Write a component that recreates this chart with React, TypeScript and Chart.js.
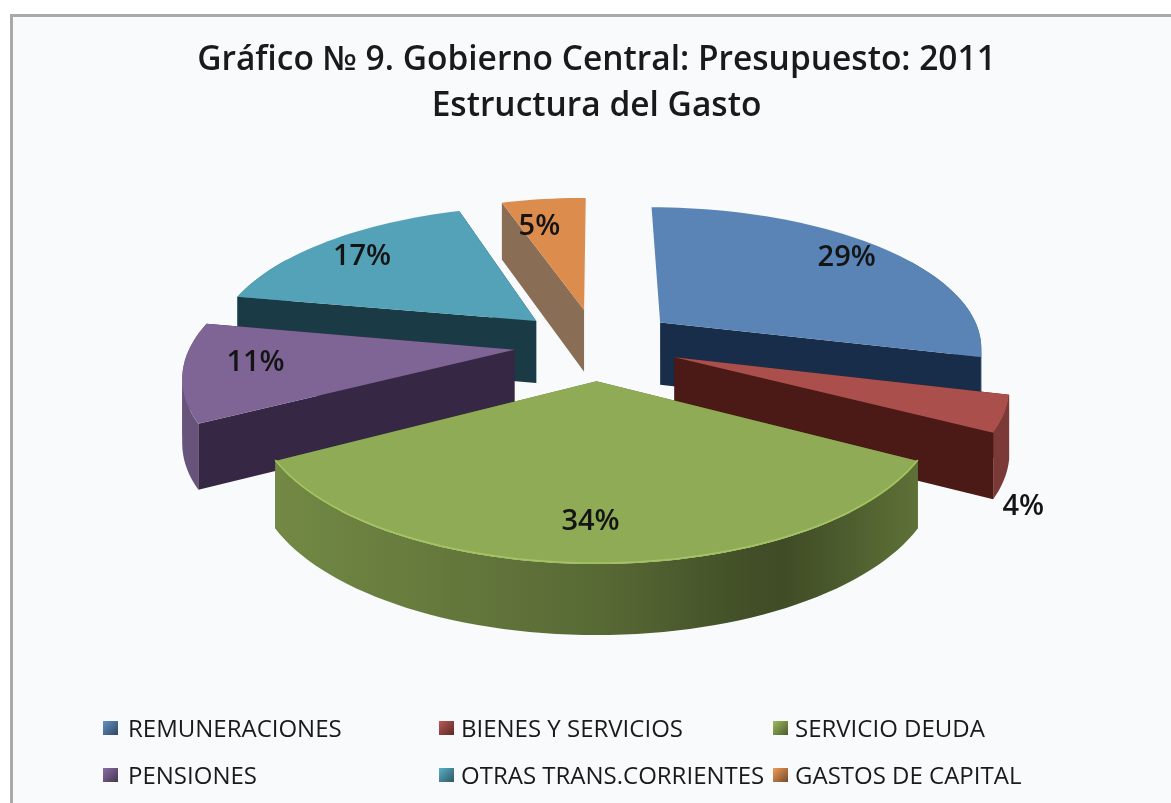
import React, { useEffect, useRef } from "react";
import { Chart, registerables } from "chart.js";

Chart.register(...registerables);

const titleLines = ["Gráfico № 9. Gobierno Central: Presupuesto: 2011", "Estructura del Gasto"];
const categories = ["REMUNERACIONES", "BIENES Y SERVICIOS", "SERVICIO DEUDA", "PENSIONES", "OTRAS TRANS.CORRIENTES", "GASTOS DE CAPITAL"];
const shares = [29, 4, 34, 11, 17, 5];
const topColors = ["#5a84b5", "#ab4f4c", "#8fab55", "#7f6596", "#53a2b8", "#dc8d4e"];
const wallColors = ["#182d49", "#4b1916", "#55702c", "#362845", "#1a3b45", "#8a6d55"];

const FONT = "'Open Sans', Lato, sans-serif";
const labelT = [0.9, 0.9, 0.795, 0.82, 0.7, 0.55];
const labelNudge = [[-15, 3], [54, 99], [-6, 1], [12, -5], [-24, -7], [-21, -18]];
const legendX = [[103, 128], [439, 461], [773, 795]];
const legendY = [728, 775];

const rgb = (h: string) => [1, 3, 5].map((i) => parseInt(h.slice(i, i + 2), 16));
const mul = (h: string, f: number) => {
  const c = rgb(h).map((v) => Math.max(0, Math.min(255, Math.round(v * f))));
  return `rgb(${c[0]},${c[1]},${c[2]})`;
};
const lerp = (a: number, b: number, t: number) => a + (b - a) * t;
const rimShade = (u: number) => {
  if (u < 0) return lerp(0.62, 0.82, Math.min(1, -u));
  if (u < 0.5) return lerp(0.62, 0.43, u / 0.5);
  return lerp(0.43, 0.72, Math.min(1, (u - 0.5) / 0.5));
};

const pie3d = {
  id: "pie3d",
  beforeDraw(chart: any) {
    const { ctx, width, height } = chart;
    ctx.save();
    ctx.fillStyle = "#ffffff";
    ctx.fillRect(0, 0, width, height);
    ctx.fillStyle = "#f8fafc";
    ctx.fillRect(13, 16, width - 13, height - 16);
    ctx.fillStyle = "#a9a9a9";
    ctx.fillRect(10, 14, width - 10, 3);
    ctx.fillRect(10, 14, 3, height - 14);
    ctx.restore();
  },
  beforeDatasetDraw(chart: any, args: any) {
    const { ctx } = chart;
    const meta = chart.getDatasetMeta(args.index);
    const B = 0.16;
    const order = meta.data
      .map((_: any, i: number) => i)
      .sort((a: number, b: number) => {
        const m = (el: any) => Math.sin((el.startAngle + el.endAngle) / 2);
        return m(meta.data[a]) - m(meta.data[b]);
      });
    const geo: any[] = [];
    for (const i of order) {
      const el = meta.data[i];
      const R = el.outerRadius;
      const cw = 1.72 * R;
      const ch = 0.745 * R;
      const project = (u: number, v: number) => [el.x + (cw * u) / (1 - B * v), el.y + (ch * v) / (1 - B * v)];
      const depth = (v: number) => 63 / (1 - 0.09 * v);
      const mid = (el.startAngle + el.endAngle) / 2;
      const d = el.options.offset / R;
      const ax = d * Math.cos(mid);
      const ay = d * Math.sin(mid);
      const base = el.options.backgroundColor as string;
      geo[i] = { ax, ay, mid, project };

      const rimGrad = ctx.createLinearGradient(el.x - cw * 1.15, 0, el.x + cw * 1.3, 0);
      for (let s = 0; s <= 24; s++) {
        const t = s / 24;
        const x = lerp(-cw * 1.15, cw * 1.3, t);
        rimGrad.addColorStop(t, mul(base, rimShade((x / cw) * 0.9)));
      }

      const apex = { p: project(ax, ay), v: ay };
      const arc: { p: number[]; v: number; s: number }[] = [];
      const n = Math.max(10, Math.round((el.endAngle - el.startAngle) * 30));
      for (let k = 0; k <= n; k++) {
        const a = lerp(el.startAngle, el.endAngle, k / n);
        const v = ay + Math.sin(a);
        arc.push({ p: project(ax + Math.cos(a), v), v, s: Math.sin(a) });
      }

      const wall = (a: any, b: any) => {
        const dx = b.p[0] - a.p[0];
        const dy = b.p[1] - a.p[1];
        if (Math.abs(dx) < Math.abs(dy) * 0.15) return;
        ctx.beginPath();
        ctx.moveTo(a.p[0], a.p[1]);
        ctx.lineTo(b.p[0], b.p[1]);
        ctx.lineTo(b.p[0], b.p[1] + depth(b.v));
        ctx.lineTo(a.p[0], a.p[1] + depth(a.v));
        ctx.closePath();
        ctx.fillStyle = wallColors[i];
        ctx.fill();
      };
      const rimRun = (run: any[]) => {
        if (run.length < 2) return;
        ctx.beginPath();
        run.forEach((q, k) => (k ? ctx.lineTo(q.p[0], q.p[1]) : ctx.moveTo(q.p[0], q.p[1])));
        [...run].reverse().forEach((q) => ctx.lineTo(q.p[0], q.p[1] + depth(q.v)));
        ctx.closePath();
        ctx.fillStyle = rimGrad;
        ctx.fill();
      };

      const walls = [
        { a: apex, b: arc[0] },
        { a: arc[n], b: apex },
      ];
      const isFront = (a: any, b: any) => b.p[0] < a.p[0];
      const backRun: any[] = [];
      const frontRun: any[] = [];
      for (let k = 0; k < n; k++) {
        if (arc[k].s < -0.5 || arc[k + 1].s < -0.5) continue;
        const run = isFront(arc[k], arc[k + 1]) ? frontRun : backRun;
        if (run[run.length - 1] !== arc[k]) run.push(arc[k]);
        run.push(arc[k + 1]);
      }
      ctx.save();
      rimRun(backRun);
      walls.filter((w) => !isFront(w.a, w.b)).forEach((w) => wall(w.a, w.b));
      rimRun(frontRun);
      walls.filter((w) => isFront(w.a, w.b)).forEach((w) => wall(w.a, w.b));

      ctx.beginPath();
      ctx.moveTo(apex.p[0], apex.p[1]);
      arc.forEach((q) => ctx.lineTo(q.p[0], q.p[1]));
      ctx.closePath();
      ctx.fillStyle = base;
      ctx.fill();

      if (Math.sin(mid) > 0.5) {
        ctx.beginPath();
        let started = false;
        arc.forEach((q) => {
          if (q.v > 0.1) {
            if (!started) ctx.moveTo(q.p[0], q.p[1] - 1);
            else ctx.lineTo(q.p[0], q.p[1] - 1);
            started = true;
          }
        });
        ctx.strokeStyle = mul(base, 1.15);
        ctx.lineWidth = 1.5;
        ctx.stroke();
      }
      ctx.restore();
    }
    chart.$geo = geo;
    return false;
  },
  afterDraw(chart: any) {
    const { ctx } = chart;
    const geo = chart.$geo;
    ctx.save();
    ctx.textBaseline = "middle";
    ctx.textAlign = "center";
    ctx.fillStyle = "#141414";
    ctx.font = `600 29px ${FONT}`;
    shares.forEach((s, i) => {
      const g = geo[i];
      const t = labelT[i];
      const pos = g.project(g.ax + t * Math.cos(g.mid), g.ay + t * Math.sin(g.mid));
      ctx.fillText(`${s}%`, pos[0] + labelNudge[i][0], pos[1] + labelNudge[i][1]);
    });
    ctx.textAlign = "left";
    ctx.font = `24px ${FONT}`;
    categories.forEach((c, i) => {
      const col = legendX[i % 3];
      const y = legendY[Math.floor(i / 3)];
      const g = ctx.createLinearGradient(col[0], y - 7, col[0] + 14, y + 7);
      g.addColorStop(0, mul(topColors[i], 1.1));
      g.addColorStop(1, mul(topColors[i], 0.55));
      ctx.fillStyle = g;
      ctx.fillRect(col[0], y - 7, 15, 14);
      ctx.fillStyle = "#1a1a1a";
      ctx.fillText(c, col[1], y + 2);
    });
    ctx.restore();
  },
};

export default function App() {
  const ref = useRef<HTMLCanvasElement>(null);
  useEffect(() => {
    document.body.style.margin = "0";
    const chart = new Chart(ref.current as HTMLCanvasElement, {
      type: "pie",
      data: {
        labels: categories,
        datasets: [{ data: shares, backgroundColor: topColors, borderWidth: 0, offset: 48 }],
      },
      options: {
        responsive: false,
        animation: false,
        layout: { padding: { left: 22, bottom: 247 } },
        plugins: {
          legend: { display: false },
          tooltip: { enabled: false },
          title: {
            display: true,
            text: titleLines,
            color: "#1a1a1a",
            font: { family: FONT, size: 33.5, weight: "600", lineHeight: 1.373 },
            padding: { top: 37, bottom: 3 },
          },
        },
      },
      plugins: [pie3d],
    } as any);
    return () => chart.destroy();
  }, []);
  return <canvas ref={ref} width={1171} height={803} style={{ display: "block", filter: "blur(0.5px)" }} />;
}
